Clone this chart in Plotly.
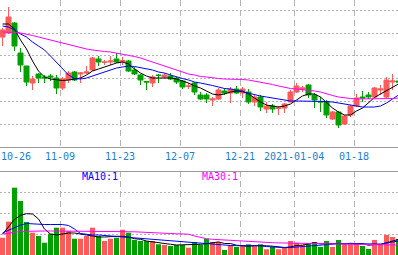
import plotly.graph_objects as go

# ---------------- data ----------------
tick_labels = ["10-26", "11-09", "11-23", "12-07", "12-21", "2021-01-04", "01-18"]
tick_index = [0, 10, 20, 30, 40, 49, 59]

open_ = [16.3, 16.7, 17.7, 14.7, 13.4, 11.7, 12.6, 12.3, 12.4, 12.2,
         11.2, 12.0, 12.8, 12.6, 12.7, 13.0, 14.1, 13.75, 13.8, 14.1,
         13.85, 13.9, 13.0, 12.5, 11.85, 11.7, 12.5, 12.3, 12.4, 12.2,
         11.9, 11.35, 11.7, 10.5, 10.5, 10.0, 10.1, 10.9, 10.7, 11.1,
         10.7, 10.8, 9.8, 10.3, 9.1, 9.4, 9.15, 9.2, 9.8, 10.8,
         11.1, 11.5, 10.5, 9.85, 9.8, 8.1, 8.8, 7.6, 8.5, 9.4,
         10.3, 10.5, 10.3, 11.0, 10.3, 11.8, 11.9]
high = [17.2, 19.3, 17.8, 15.2, 13.4, 12.4, 12.7, 12.5, 12.6, 12.5,
        12.3, 12.9, 12.9, 12.8, 13.4, 14.3, 14.4, 14.0, 14.4, 14.7,
        14.3, 14.0, 13.3, 12.6, 11.9, 12.5, 12.6, 12.7, 12.7, 12.3,
        12.0, 11.7, 11.8, 10.8, 10.7, 10.3, 11.2, 11.2, 11.3, 11.4,
        11.3, 11.1, 10.5, 10.5, 9.8, 9.6, 9.4, 9.7, 11.0, 11.7,
        11.4, 11.6, 10.7, 10.3, 10.0, 8.9, 8.9, 8.5, 9.5, 10.6,
        10.9, 10.8, 11.3, 11.5, 12.3, 12.6, 12.0]
low = [15.4, 16.6, 14.9, 12.8, 11.4, 11.0, 11.7, 11.7, 11.9, 10.6,
       11.0, 11.7, 11.9, 11.7, 12.6, 12.9, 13.4, 13.5, 13.5, 13.7,
       13.5, 12.8, 12.5, 11.5, 11.0, 11.3, 11.7, 12.2, 12.0, 11.6,
       11.1, 11.1, 10.5, 10.0, 9.7, 9.4, 10.0, 10.5, 9.7, 10.6,
       10.2, 9.6, 9.4, 8.9, 8.7, 8.7, 8.5, 8.7, 9.8, 10.7,
       10.8, 10.2, 9.2, 8.8, 8.2, 8.0, 7.2, 7.5, 8.3, 9.3,
       9.8, 10.1, 10.3, 10.5, 10.2, 11.0, 11.7]
close = [17.0, 18.3, 15.4, 13.5, 11.8, 12.1, 12.2, 12.2, 12.3, 11.2,
         12.1, 12.7, 12.0, 12.7, 12.8, 14.2, 13.8, 13.8, 13.9, 13.8,
         13.95, 12.9, 12.6, 12.0, 11.8, 12.3, 12.45, 12.5, 12.1, 11.8,
         11.3, 11.4, 10.8, 10.1, 10.1, 10.1, 11.0, 10.7, 11.1, 10.7,
         11.1, 9.8, 10.3, 9.3, 9.4, 9.1, 9.2, 9.6, 10.8, 11.4,
         11.2, 10.5, 10.0, 9.8, 8.5, 8.8, 7.5, 8.4, 9.4, 10.2,
         10.2, 10.3, 11.2, 11.1, 12.0, 11.9, 11.8]

ma5 = [17.6, 17.6, 17.1, 16.0, 15.1, 13.9, 12.9, 12.3, 12.1, 12.0,
       11.95, 12.0, 12.1, 12.2, 12.5, 12.9, 13.1, 13.3, 13.5, 13.7,
       13.8, 13.6, 13.1, 12.7, 12.4, 12.2, 12.2, 12.2, 12.2, 12.1,
       11.9, 11.7, 11.4, 11.2, 10.9, 10.6, 10.5, 10.6, 10.8, 10.9,
       10.9, 10.6, 10.2, 9.8, 9.5, 9.4, 9.3, 9.4, 9.6, 10.0,
       10.4, 10.6, 10.6, 10.3, 9.7, 9.2, 8.8, 8.5, 8.5, 8.9,
       9.2, 9.7, 10.25, 10.6, 10.95, 11.3, 11.6]
ma10 = [17.4, 17.3, 17.0, 16.6, 16.3, 15.8, 15.4, 15.0, 14.4, 13.8,
        13.1, 12.5, 12.15, 12.1, 12.2, 12.4, 12.6, 12.8, 13.0, 13.2,
        13.3, 13.4, 13.35, 13.25, 13.1, 13.0, 12.8, 12.7, 12.5, 12.3,
        12.15, 12.0, 11.8, 11.7, 11.6, 11.45, 11.3, 11.15, 11.1, 10.95,
        10.8, 10.7, 10.55, 10.4, 10.3, 10.2, 10.05, 9.95, 9.9, 9.9,
        9.9, 9.9, 9.9, 9.9, 9.85, 9.8, 9.7, 9.6, 9.5, 9.4,
        9.3, 9.3, 9.3, 9.4, 9.7, 10.1, 10.5]
ma30 = [16.8, 16.8, 16.75, 16.7, 16.6, 16.45, 16.3, 16.15, 16.0, 15.85,
        15.7, 15.5, 15.4, 15.2, 15.1, 15.0, 14.9, 14.85, 14.8, 14.7,
        14.6, 14.5, 14.35, 14.2, 14.0, 13.8, 13.6, 13.4, 13.2, 12.95,
        12.75, 12.6, 12.5, 12.35, 12.3, 12.2, 12.15, 12.1, 12.1, 12.1,
        12.05, 12.0, 11.9, 11.8, 11.7, 11.55, 11.4, 11.25, 11.15, 11.1,
        11.05, 11.0, 10.9, 10.8, 10.6, 10.45, 10.3, 10.2, 10.15, 10.1,
        10.1, 10.1, 10.1, 10.1, 10.1, 10.15, 10.2]

volume = [17.3, 33.3, 67.3, 54, 33, 22.3, 19, 12.3, 21.3, 27.3,
          27.3, 24, 16.3, 16.3, 19, 27.3, 19, 14, 16.3, 17.3,
          25.3, 22.3, 15, 14, 14, 14, 10.7, 10, 9, 10,
          10, 7.3, 13, 10, 16.3, 13, 13, 5, 10, 8,
          10, 10.7, 9, 10.7, 5.7, 8, 5.7, 7.3, 14, 12.3,
          10, 12, 13, 8, 14, 8, 15, 10.7, 10.7, 12,
          9, 6, 15, 10, 20, 18, 15.7]
vol_ma5 = [20.7, 28, 35.7, 39.7, 41.3, 41, 36, 26, 21, 20,
           21.3, 22, 22, 21.3, 20, 19, 18, 18, 18.7, 18.7,
           18.7, 18, 16.3, 15.7, 14, 13, 12.3, 11.3, 10.7, 10,
           10, 10, 10, 10.7, 11.3, 11.9, 13.1, 11.5, 11.5, 9.8,
           9.2, 8.7, 9.5, 9.7, 9.2, 8.8, 7.8, 7.5, 8.1, 9.5,
           9.9, 11.1, 12.3, 11.1, 11.4, 11, 11.6, 11.1, 11.7, 11.3,
           11.5, 9.7, 10.5, 10.4, 12, 13.8, 15.7]
vol_ma10 = [22, 24.5, 27.5, 30, 31.5, 31, 30.5, 30.5, 30.5, 30.5,
            30.5, 29.5, 26, 21.5, 20.5, 20, 20, 19.5, 19, 18.5,
            18.5, 18, 17.3, 17, 16.3, 16, 15, 14.5, 14, 13.5,
            13, 12.5, 12, 11.5, 11, 10.5, 10.5, 10, 9.5, 9.3,
            9.3, 9.3, 9.2, 9.2, 8.5, 8, 7.5, 7.3, 7.5, 8,
            8.7, 9.3, 9.7, 9.8, 10.3, 10.7, 11.3, 11.3, 11.3, 11.2,
            11.2, 11, 11, 11, 12, 13, 14]
vol_ma30 = [21, 22, 23, 23.5, 23.7, 24, 24, 24, 24, 24,
            24, 24, 24, 24, 24, 24, 23.8, 23.7, 23.5, 23.3,
            23.3, 23.3, 23.2, 23, 23, 22.5, 22.3, 22, 21.5, 21.2,
            21, 20.8, 19, 17.5, 16.3, 15.7, 15.3, 14.8, 14.5, 14,
            13.8, 13.5, 13.2, 12.9, 12.6, 12.3, 12.1, 12, 11.8, 11.7,
            11.5, 11.3, 11.2, 11, 11, 10.8, 10.7, 10.7, 10.7, 10.7,
            10.5, 10.3, 10.2, 10, 10, 10, 10]

# ---------------- styling / layout ----------------
W, H = 398, 255
SLOT = 6.0                      # px per trading day
X0 = -2.5 / SLOT
X1 = (W - 2.5) / SLOT
PRICE_BOTTOM = 147              # px from top
VOL_TOP = 171
RED = "#ff5a5a"
GREEN = "#00a000"
MA_COLORS = ["#000000", "#0000ff", "#ff00ff"]
GRID = "#b4b4b4"
FONT = "DejaVu Sans Mono"

n = len(close)
x = list(range(n))
vol_colors = [RED if c >= o else GREEN for o, c in zip(open_, close)]
grid_x = [i - 2.5 / SLOT for i in tick_index]

fig = go.Figure()
fig.add_trace(go.Candlestick(
    x=x, open=open_, high=high, low=low, close=close,
    increasing=dict(line=dict(color=RED, width=1), fillcolor=RED),
    decreasing=dict(line=dict(color=GREEN, width=1), fillcolor=GREEN),
    whiskerwidth=0, xaxis="x", yaxis="y", hoverinfo="skip"))
for vals, col in zip([ma5, ma10, ma30], MA_COLORS):
    fig.add_trace(go.Scatter(x=x, y=vals, mode="lines",
                             line=dict(color=col, width=1),
                             xaxis="x", yaxis="y", hoverinfo="skip"))

fig.add_trace(go.Bar(x=x, y=volume, marker=dict(color=vol_colors, line=dict(width=0)),
                     xaxis="x2", yaxis="y2", hoverinfo="skip"))
for vals, col in zip([vol_ma5, vol_ma10, vol_ma30], MA_COLORS):
    fig.add_trace(go.Scatter(x=x, y=vals, mode="lines",
                             line=dict(color=col, width=1),
                             xaxis="x2", yaxis="y2", hoverinfo="skip"))

xcommon = dict(range=[X0, X1], showticklabels=False, tickmode="array",
               tickvals=grid_x, ticks="", showgrid=True, gridcolor=GRID,
               griddash="6px,4px", gridwidth=1, zeroline=False, showline=False,
               fixedrange=True)

fig.update_layout(
    width=W, height=H, margin=dict(l=0, r=0, t=0, b=0, pad=0),
    paper_bgcolor="white", plot_bgcolor="white", showlegend=False,
    bargap=1 / 6, boxgap=1 / 6, boxgroupgap=0,
    xaxis=dict(domain=[0, 1], anchor="y", rangeslider=dict(visible=False), **xcommon),
    xaxis2=dict(domain=[0, 1], anchor="y2", **xcommon),
    yaxis=dict(domain=[1 - PRICE_BOTTOM / H, 1], range=[20 - PRICE_BOTTOM / 10, 20],
               tick0=7.6, dtick=2.27, showticklabels=False, ticks="",
               showgrid=True, gridcolor=GRID, griddash="2px,2px", zeroline=False,
               fixedrange=True),
    yaxis2=dict(domain=[0, 1 - VOL_TOP / H], range=[0, H - VOL_TOP],
                tick0=0, dtick=21, showticklabels=False, ticks="",
                showgrid=True, gridcolor=GRID, griddash="2px,2px", zeroline=False,
                fixedrange=True),
)

# separator lines around the date band
for ypx in (PRICE_BOTTOM + 0.5, VOL_TOP + 0.5):
    fig.add_shape(type="line", xref="paper", yref="paper", x0=0, x1=1,
                  y0=(H - ypx) / H, y1=(H - ypx) / H,
                  line=dict(color="#9a9a9a", width=1))

# date labels
for k, (gx, lab) in enumerate(zip(grid_x, tick_labels)):
    fig.add_annotation(x=gx, xref="x", y=(H - 156) / H, yref="paper",
                       text=lab, showarrow=False,
                       xanchor="left" if k == 0 else "center", yanchor="middle",
                       borderpad=0,
                       font=dict(family=FONT, size=10, color="#1a7fd0"))

# indicator labels in the volume panel
for txt, cx, col in [("MA10:1", 100, MA_COLORS[1]), ("MA30:1", 220, MA_COLORS[2])]:
    fig.add_annotation(x=cx / W, xref="paper", y=(H - 176.5) / H, yref="paper",
                       text=txt, showarrow=False, xanchor="center", yanchor="middle",
                       borderpad=0, font=dict(family=FONT, size=10, color=col))

fig.write_html("out.html", config={"displayModeBar": False})
